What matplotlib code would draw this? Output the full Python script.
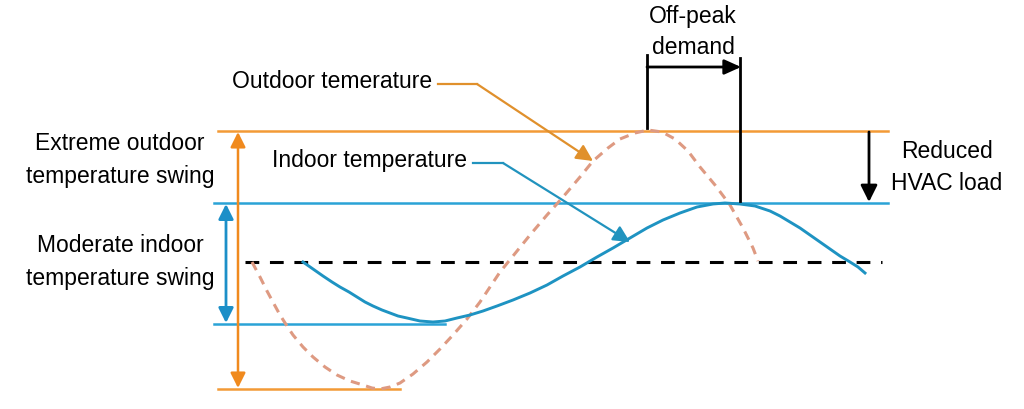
import matplotlib
matplotlib.use("Agg")
import matplotlib.pyplot as plt

# ---- data (diagram units: pixels of a 1024x409 canvas, y downward) ----
outdoor_max = 131
outdoor_min = 389
indoor_max = 203
indoor_min = 324
baseline = 262

outdoor_x = [252, 260, 267, 274, 280, 287, 293, 303, 313, 325, 337, 350, 363, 372, 380, 390, 400, 413, 427, 440, 453, 467, 480, 490, 500, 513, 530, 547, 563, 580, 593, 608, 620, 635, 648, 662, 675, 688, 700, 715, 730, 743, 753, 758]
outdoor_y = [262, 277, 291, 304, 315, 326, 335, 347, 357, 367, 375, 381, 385, 388, 389, 387, 383, 374, 362, 349, 335, 319, 302, 287, 272, 256, 235, 215, 197, 177, 161, 148, 139, 133, 130, 132, 139, 151, 167, 185, 205, 228, 248, 261]

indoor_x = [303, 313, 323, 332, 340, 349, 357, 365, 373, 382, 390, 398, 407, 420, 433, 445, 457, 470, 483, 497, 513, 530, 547, 563, 580, 597, 613, 630, 647, 663, 680, 697, 713, 725, 740, 755, 770, 780, 790, 800, 810, 820, 830, 840, 850, 858, 865]
indoor_y = [262, 269, 276, 282, 287, 292, 297, 302, 306, 310, 313, 316, 318, 321, 322, 321, 318, 315, 311, 306, 300, 293, 285, 276, 267, 257, 248, 238, 228, 220, 213, 207, 204, 203, 204, 206, 211, 216, 222, 228, 235, 242, 249, 256, 262, 267, 273]

ORANGE = "#F39A36"
ORANGE_HEAD = "#F08A1E"
BLUE = "#2AA3D6"
BLUE_CURVE = "#1E93C2"
DASH_CURVE = "#DE9A82"

fig = plt.figure(figsize=(10.24, 4.09), dpi=100)
ax = fig.add_axes([0, 0, 1, 1])
ax.set_xlim(0, 1024)
ax.set_ylim(409, 0)
ax.axis("off")

FONT = "Liberation Sans"
FS = 16.5

# reference horizontal lines
ax.plot([218, 888], [outdoor_max, outdoor_max], color=ORANGE, lw=1.8)
ax.plot([218, 400], [outdoor_min, outdoor_min], color=ORANGE, lw=1.8)
ax.plot([214, 888], [indoor_max, indoor_max], color=BLUE, lw=1.8)
ax.plot([214, 445], [indoor_min, indoor_min], color=BLUE, lw=1.8)
ax.plot([245, 882], [baseline, baseline], color="black", lw=2.2, ls=(0, (4.5, 3.5)))

# curves
ax.plot(outdoor_x, outdoor_y, color=DASH_CURVE, lw=2.2, ls=(0, (3, 2.2)))
ax.plot(indoor_x, indoor_y, color=BLUE_CURVE, lw=2.1, solid_joinstyle="round")

# vertical swing arrows
ax.annotate("", xy=(238, outdoor_max + 1), xytext=(238, outdoor_min - 1),
            arrowprops=dict(arrowstyle="<|-|>,head_length=0.9,head_width=0.45",
                            color=ORANGE_HEAD, lw=1.8, shrinkA=0, shrinkB=0))
ax.annotate("", xy=(226, indoor_max + 1), xytext=(226, indoor_min - 1),
            arrowprops=dict(arrowstyle="<|-|>,head_length=0.9,head_width=0.45",
                            color="#1C8FC8", lw=2.0, shrinkA=0, shrinkB=0))

# left labels
ax.text(120, 143, "Extreme outdoor", ha="center", va="center", fontsize=FS, family=FONT)
ax.text(120, 177, "temperature swing", ha="center", va="center", fontsize=FS, family=FONT)
ax.text(120, 246, "Moderate indoor", ha="center", va="center", fontsize=FS, family=FONT)
ax.text(120, 279, "temperature swing", ha="center", va="center", fontsize=FS, family=FONT)

# curve labels with leader lines
ax.text(432, 82, "Outdoor temerature", ha="right", va="center", fontsize=FS, family=FONT)
ax.plot([438, 477], [84, 84], color="#E0902C", lw=1.6)
ax.annotate("", xy=(593, 161), xytext=(477, 84),
            arrowprops=dict(arrowstyle="-|>,head_length=1.0,head_width=0.5",
                            color="#E0902C", lw=1.6, shrinkA=0, shrinkB=0))
ax.text(467, 160, "Indoor temperature", ha="right", va="center", fontsize=FS, family=FONT)
ax.plot([473, 503], [163, 163], color="#2193BE", lw=1.6)
ax.annotate("", xy=(630, 242), xytext=(503, 163),
            arrowprops=dict(arrowstyle="-|>,head_length=1.0,head_width=0.5",
                            color="#2193BE", lw=1.6, shrinkA=0, shrinkB=0))

# off-peak demand
ax.plot([647, 647], [55, 128], color="black", lw=2.0)
ax.plot([740, 740], [58, 201], color="black", lw=2.0)
ax.annotate("", xy=(741, 67), xytext=(647, 67),
            arrowprops=dict(arrowstyle="-|>,head_length=1.0,head_width=0.45",
                            color="black", lw=2.0, shrinkA=0, shrinkB=0))
ax.text(693, 16, "Off-peak", ha="center", va="center", fontsize=FS, family=FONT)
ax.text(693, 47, "demand", ha="center", va="center", fontsize=FS, family=FONT)

# reduced HVAC load
ax.annotate("", xy=(869, 202), xytext=(869, 132),
            arrowprops=dict(arrowstyle="-|>,head_length=1.0,head_width=0.5",
                            color="black", lw=2.0, shrinkA=0, shrinkB=0))
ax.text(947, 151, "Reduced", ha="center", va="center", fontsize=FS, family=FONT)
ax.text(947, 184, "HVAC load", ha="center", va="center", fontsize=FS, family=FONT)

fig.savefig("out.png", dpi=100, facecolor="white")
